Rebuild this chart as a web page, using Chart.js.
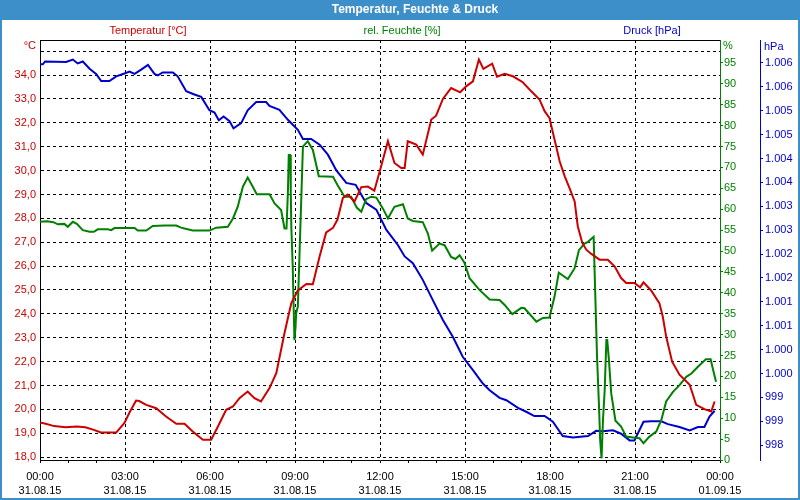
<!DOCTYPE html>
<html><head><meta charset="utf-8">
<script src="https://cdn.jsdelivr.net/npm/chart.js@4"></script>
<style>html,body{margin:0;padding:0;background:#fff;overflow:hidden}canvas{display:block}</style>
</head><body>
<canvas id="c" width="800" height="500" style="width:800px;height:500px"></canvas>
<script>
const chartTitle = 'Temperatur, Feuchte & Druck';
const seriesNames = ['Temperatur [°C]', 'rel. Feuchte [%]', 'Druck [hPa]'];
const unitLabels = ['°C', '%', 'hPa'];
const xTickHours = [0, 3, 6, 9, 12, 15, 18, 21, 24];
const xTimeLabels = ['00:00', '03:00', '06:00', '09:00', '12:00', '15:00', '18:00', '21:00', '00:00'];
const xDateLabels = ['31.08.15', '31.08.15', '31.08.15', '31.08.15', '31.08.15', '31.08.15', '31.08.15', '31.08.15', '01.09.15'];

const tempHours = [0, 0.2, 0.5, 0.9, 1.3, 1.6, 1.9, 2.15, 2.69, 2.98, 3.15, 3.39, 3.5, 3.75, 4.1, 4.45, 4.81, 5.1, 5.39, 5.75, 6.04, 6.28, 6.57, 6.81, 7.04, 7.33, 7.57, 7.8, 8.1, 8.34, 8.63, 8.87, 9.1, 9.4, 9.63, 9.87, 10.1, 10.34, 10.5, 10.69, 10.86, 11.1, 11.34, 11.57, 11.8, 12.04, 12.28, 12.51, 12.75, 12.87, 12.98, 13.28, 13.51, 13.81, 13.98, 14.22, 14.51, 14.83, 15.04, 15.28, 15.49, 15.65, 15.96, 16.13, 16.4, 16.69, 17.04, 17.34, 17.63, 17.81, 17.98, 18.16, 18.34, 18.52, 18.69, 18.87, 18.98, 19.14, 19.28, 19.46, 19.75, 20.04, 20.28, 20.51, 20.69, 20.98, 21.18, 21.3, 21.57, 21.86, 21.98, 22.1, 22.31, 22.57, 22.93, 23.16, 23.45, 23.69, 23.81];
const tempValues = [19.45, 19.4, 19.3, 19.25, 19.28, 19.25, 19.14, 19.03, 19.03, 19.43, 19.85, 20.37, 20.35, 20.19, 20.05, 19.7, 19.4, 19.4, 19.07, 18.73, 18.73, 19.28, 19.98, 20.12, 20.47, 20.75, 20.47, 20.33, 20.89, 21.52, 23.2, 24.45, 24.98, 25.25, 25.24, 26.41, 27.41, 27.6, 27.95, 28.86, 29.0, 28.71, 29.31, 29.33, 29.16, 30.18, 31.23, 30.32, 30.11, 30.11, 31.23, 31.09, 30.67, 32.14, 32.3, 33.0, 33.46, 33.28, 33.53, 33.74, 34.65, 34.26, 34.48, 33.93, 34.05, 33.95, 33.7, 33.32, 32.98, 32.49, 32.21, 31.3, 30.39, 29.76, 29.27, 28.71, 27.67, 26.97, 26.69, 26.51, 26.27, 26.27, 25.99, 25.5, 25.29, 25.29, 25.11, 25.32, 24.98, 24.45, 23.89, 23.05, 22.0, 21.45, 21.03, 20.19, 20.01, 19.91, 20.33];

const humHours = [0, 0.25, 0.47, 0.63, 0.86, 0.98, 1.16, 1.3, 1.51, 1.75, 1.9, 2.04, 2.4, 2.51, 2.63, 3.34, 3.45, 3.75, 3.98, 4.39, 4.81, 4.98, 5.1, 5.39, 5.98, 6.22, 6.63, 6.81, 6.98, 7.16, 7.33, 7.51, 7.65, 8.1, 8.28, 8.51, 8.63, 8.7, 8.75, 8.78, 8.83, 8.85, 8.87, 8.92, 8.98, 9.02, 9.04, 9.1, 9.16, 9.22, 9.28, 9.45, 9.63, 9.84, 10.34, 10.5, 10.75, 10.98, 11.18, 11.34, 11.51, 11.69, 11.87, 12.1, 12.28, 12.51, 12.81, 12.98, 13.16, 13.51, 13.69, 13.84, 14.1, 14.28, 14.51, 14.66, 14.81, 14.98, 15.16, 15.51, 15.87, 16.22, 16.4, 16.67, 16.99, 17.1, 17.52, 17.75, 17.98, 18.16, 18.31, 18.63, 18.87, 19.02, 19.22, 19.34, 19.54, 19.61, 19.66, 19.73, 19.77, 19.82, 19.87, 19.93, 19.99, 20.02, 20.08, 20.16, 20.31, 20.51, 20.69, 20.92, 21.16, 21.3, 21.51, 21.75, 21.93, 22.1, 22.34, 22.57, 22.81, 22.99, 23.22, 23.5, 23.67, 23.76, 23.86];
const humValues = [57.0, 57.1, 56.9, 56.4, 56.5, 55.8, 57.0, 56.5, 55.0, 54.6, 54.6, 55.2, 55.2, 55.0, 55.5, 55.5, 54.9, 54.9, 56.0, 56.1, 56.1, 55.6, 55.4, 54.9, 54.9, 55.6, 55.8, 57.8, 60.6, 65.4, 67.6, 65.4, 63.6, 63.6, 61.4, 59.8, 55.4, 55.4, 64.2, 73.0, 73.0, 64.4, 55.8, 46.2, 28.7, 31.9, 35.1, 36.7, 49.4, 62.2, 75.0, 76.3, 74.2, 67.9, 67.8, 65.8, 63.0, 63.0, 60.4, 59.4, 62.4, 63.0, 62.8, 60.2, 57.8, 60.6, 61.2, 57.8, 57.2, 56.9, 54.2, 50.1, 51.8, 51.4, 48.6, 48.1, 49.0, 47.2, 43.5, 40.7, 38.4, 38.3, 37.1, 34.9, 36.4, 36.3, 33.1, 34.0, 34.1, 39.1, 44.8, 43.3, 45.9, 50.2, 51.8, 52.2, 53.4, 36.7, 24.7, 12.8, 4.8, 0.4, 9.6, 16.7, 28.7, 28.7, 23.9, 16.0, 9.4, 8.0, 5.6, 5.4, 5.2, 4.0, 5.6, 6.8, 9.6, 14.0, 16.3, 17.9, 19.9, 20.7, 22.3, 24.1, 24.1, 21.5, 18.7];

const pressHours = [0, 0.1, 0.18, 0.92, 1.16, 1.33, 1.51, 1.75, 1.98, 2.16, 2.45, 2.69, 2.98, 3.16, 3.34, 3.57, 3.81, 4.04, 4.16, 4.33, 4.69, 4.86, 5.16, 5.45, 5.69, 5.98, 6.16, 6.31, 6.48, 6.69, 6.83, 7.1, 7.33, 7.63, 7.98, 8.1, 8.45, 8.75, 9.1, 9.28, 9.57, 9.87, 10.16, 10.46, 10.81, 11.14, 11.51, 11.87, 12.22, 12.63, 12.87, 13.16, 13.51, 13.86, 14.22, 14.57, 14.92, 15.28, 15.63, 15.87, 16.22, 16.46, 16.87, 17.16, 17.45, 17.81, 18.1, 18.45, 18.81, 19.34, 19.63, 19.87, 20.22, 20.51, 20.81, 20.98, 21.3, 21.57, 21.93, 22.16, 22.57, 22.93, 23.22, 23.45, 23.63, 23.81];
const pressValues = [1005.97, 1005.97, 1006.03, 1006.02, 1006.07, 1005.99, 1006.03, 1005.88, 1005.77, 1005.62, 1005.62, 1005.72, 1005.78, 1005.82, 1005.77, 1005.86, 1005.96, 1005.77, 1005.74, 1005.8, 1005.8, 1005.72, 1005.41, 1005.34, 1005.29, 1005.01, 1004.96, 1004.8, 1004.88, 1004.78, 1004.63, 1004.74, 1005.01, 1005.18, 1005.18, 1005.1, 1005.02, 1004.81, 1004.6, 1004.41, 1004.41, 1004.29, 1004.08, 1003.75, 1003.49, 1003.45, 1003.07, 1002.93, 1002.51, 1002.19, 1001.95, 1001.81, 1001.46, 1001.04, 1000.62, 1000.27, 999.85, 999.57, 999.29, 999.15, 998.99, 998.94, 998.78, 998.7, 998.61, 998.61, 998.49, 998.19, 998.16, 998.19, 998.3, 998.29, 998.31, 998.24, 998.1, 998.1, 998.49, 998.5, 998.5, 998.44, 998.38, 998.31, 998.38, 998.38, 998.6, 998.72];

const FONT = '"Liberation Sans", Arial, sans-serif';
const RED = '#cc0000', GREEN = '#008000', BLUE = '#0000cc', FRAME = '#3d8fc9';

const toPts = (xs, ys) => xs.map((x, i) => ({x: x, y: ys[i]}));

const framePlugin = {
  id: 'framePlugin',
  beforeDraw(chart) {
    const ctx = chart.ctx, W = chart.width, H = chart.height;
    ctx.save();
    ctx.fillStyle = '#fff';
    ctx.fillRect(0, 0, W, H);
    ctx.fillStyle = FRAME;
    ctx.fillRect(0, 0, W, 20);
    ctx.fillRect(0, 0, 2, H);
    ctx.fillRect(W - 2, 0, 2, H);
    ctx.fillRect(0, H - 2, W, 2);
    ctx.fillStyle = '#fff';
    ctx.font = 'bold 12px ' + FONT;
    ctx.textAlign = 'center';
    ctx.textBaseline = 'middle';
    ctx.fillText(chartTitle, 415, 10);
    ctx.font = '11px ' + FONT;
    ctx.fillStyle = RED; ctx.fillText(seriesNames[0], 148, 31);
    ctx.fillStyle = GREEN; ctx.fillText(seriesNames[1], 402, 31);
    ctx.fillStyle = BLUE; ctx.fillText(seriesNames[2], 652, 31);
    ctx.restore();
  },
  afterDraw(chart) {
    const ctx = chart.ctx, a = chart.chartArea;
    ctx.save();
    ctx.strokeStyle = '#000';
    ctx.lineWidth = 1;
    ctx.beginPath();
    ctx.moveTo(a.left, a.top + 0.5);
    ctx.lineTo(a.right, a.top + 0.5);
    ctx.stroke();
    ctx.font = '11px ' + FONT;
    ctx.textBaseline = 'middle';
    ctx.textAlign = 'right';
    ctx.fillStyle = RED; ctx.fillText(unitLabels[0], chart.scales.yT.right - 4, 46);
    ctx.textAlign = 'left';
    ctx.fillStyle = GREEN; ctx.fillText(unitLabels[1], chart.scales.yH.left + 3, 46);
    ctx.fillStyle = BLUE; ctx.fillText(unitLabels[2], chart.scales.yP.left + 4, 47);
    ctx.restore();
  }
};

new Chart(document.getElementById('c'), {
  type: 'line',
  data: {
    datasets: [
      {label: seriesNames[0], data: toPts(tempHours, tempValues), yAxisID: 'yT', borderColor: RED, borderWidth: 2, pointRadius: 0, tension: 0, fill: false},
      {label: seriesNames[1], data: toPts(humHours, humValues), yAxisID: 'yH', borderColor: GREEN, borderWidth: 2, pointRadius: 0, tension: 0, fill: false},
      {label: seriesNames[2], data: toPts(pressHours, pressValues), yAxisID: 'yP', borderColor: BLUE, borderWidth: 2, pointRadius: 0, tension: 0, fill: false}
    ]
  },
  options: {
    responsive: false,
    animation: false,
    devicePixelRatio: 1,
    parsing: false,
    layout: {padding: {top: 40, left: 0, right: 0, bottom: 0}},
    plugins: {legend: {display: false}, title: {display: false}, tooltip: {enabled: false}},
    scales: {
      x: {
        type: 'linear', position: 'bottom', min: 0, max: 24,
        afterFit(s) { s.height = 40; },
        ticks: {
          stepSize: 1, autoSkip: false, maxRotation: 0, minRotation: 0, color: '#000', padding: 6,
          font: {family: FONT, size: 11, lineHeight: 1.36},
          callback(v) { const i = xTickHours.indexOf(v); return i < 0 ? '' : [xTimeLabels[i], xDateLabels[i]]; }
        },
        grid: {
          color: c => (c.tick && xTickHours.includes(c.tick.value) && c.tick.value > 0 && c.tick.value < 24) ? '#000' : 'rgba(0,0,0,0)',
          tickColor: '#000', tickLength: 3, lineWidth: 1
        },
        border: {color: '#000', width: 1, dash: [3, 3]}
      },
      yT: {
        type: 'linear', position: 'left', min: 17.88, max: 35.47,
        afterFit(s) { s.width = 40; },
        ticks: {
          stepSize: 1, includeBounds: false, color: RED, padding: 4,
          font: {family: FONT, size: 11},
          callback(v) { return v >= 35 ? '' : v.toFixed(1).replace('.', ','); }
        },
        grid: {color: '#000', drawTicks: false, lineWidth: 1},
        border: {color: '#000', width: 1, dash: [3, 3]}
      },
      yH: {
        type: 'linear', position: 'right', weight: 1, min: 0, max: 100.5,
        afterFit(s) { s.width = 40; },
        ticks: {
          stepSize: 5, includeBounds: false, color: GREEN, padding: 1, font: {family: FONT, size: 11},
          callback(v) { return v >= 100 ? '' : String(v); }
        },
        grid: {
          drawOnChartArea: false, tickLength: 3, color: GREEN,
          tickColor: c => (c.tick && c.tick.value >= 100) ? 'rgba(0,0,0,0)' : GREEN
        },
        border: {color: GREEN, width: 1}
      },
      yP: {
        type: 'linear', position: 'right', weight: 2, min: 997.69, max: 1006.48,
        afterFit(s) { s.width = 40; },
        ticks: {
          stepSize: 0.5, includeBounds: false, color: BLUE, padding: 2, font: {family: FONT, size: 11},
          callback(v) { const r = Math.round(v); return r >= 1000 ? '1.' + String(r - 1000).padStart(3, '0') : String(r); }
        },
        grid: {drawOnChartArea: false, tickColor: BLUE, tickLength: 3, color: BLUE},
        border: {color: BLUE, width: 1}
      }
    }
  },
  plugins: [framePlugin]
});
</script>
</body></html>
